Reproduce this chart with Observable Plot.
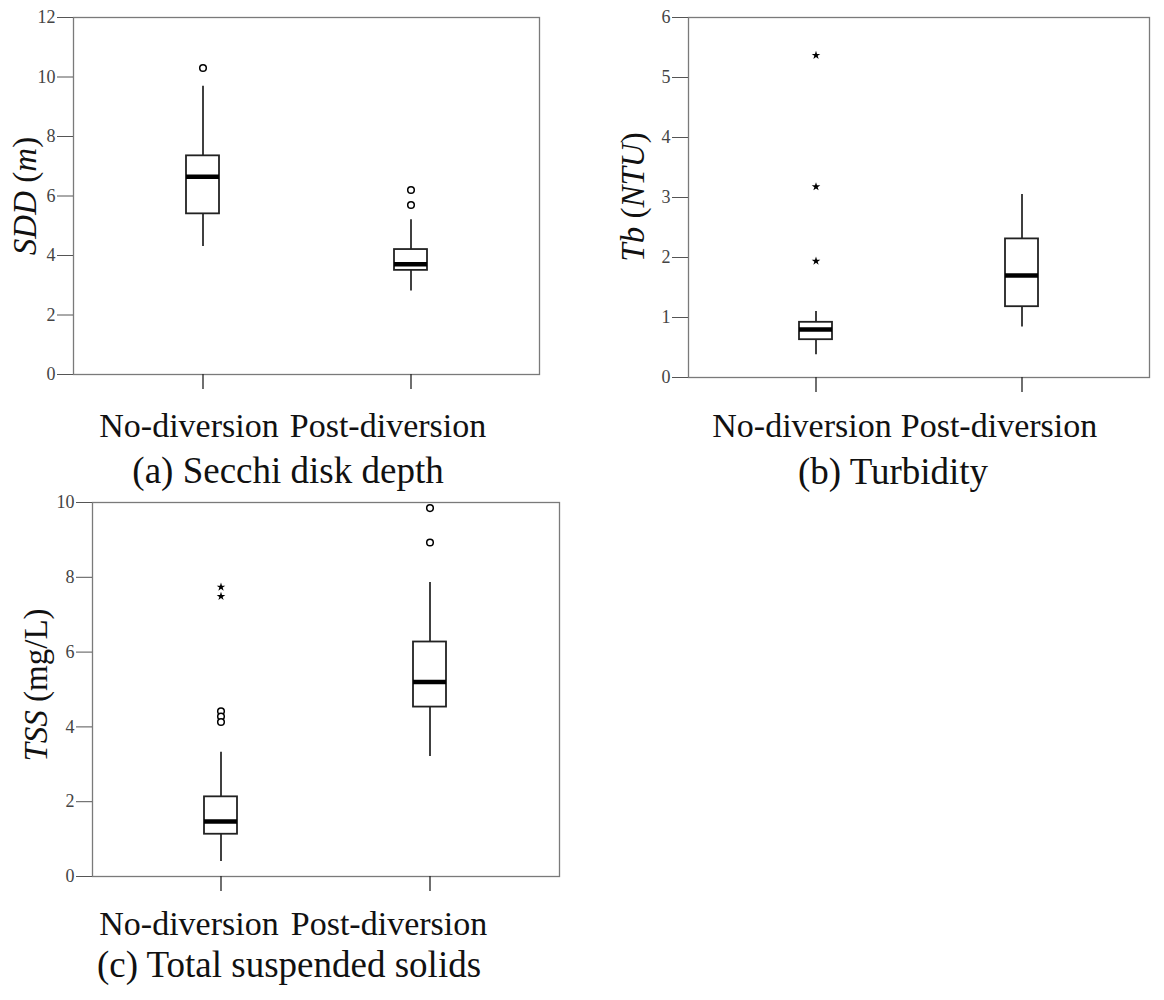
<!DOCTYPE html>
<html>
<head>
<meta charset="utf-8">
<script src="https://cdn.jsdelivr.net/npm/d3@7"></script>
<script src="https://cdn.jsdelivr.net/npm/@observablehq/plot@0.6"></script>
<style>
  html, body { margin: 0; padding: 0; background: #fff; }
  #wrap { position: relative; width: 1164px; height: 1000px; background: #fff; font-family: "Liberation Serif", "Times New Roman", serif; color: #111; }
  .panel { position: absolute; }
  .title { position: absolute; font-size: 37px; line-height: 37px; white-space: nowrap; transform: translateX(-50%); }
  .ylab { position: absolute; font-size: 33px; line-height: 33px; white-space: nowrap; transform: translate(-50%, -50%) rotate(-90deg); }
  .ylab i { font-style: italic; }
</style>
</head>
<body>
<div id="wrap"></div>
<script>
// ---------- data ----------
const categories = ["No-diversion", "Post-diversion"];

// (a) Secchi disk depth, m
const sddQ1 = [5.40, 3.50];
const sddMedian = [6.65, 3.71];
const sddQ3 = [7.35, 4.20];
const sddLow = [4.30, 2.81];
const sddHigh = [9.69, 5.20];
const sddOutliers = [["No-diversion", 10.30], ["Post-diversion", 6.20], ["Post-diversion", 5.70]];
const sddExtremes = [];
const sddTicks = [0, 2, 4, 6, 8, 10, 12];

// (b) Turbidity, NTU
const tbQ1 = [0.63, 1.18];
const tbMedian = [0.80, 1.70];
const tbQ3 = [0.92, 2.31];
const tbLow = [0.38, 0.84];
const tbHigh = [1.10, 3.05];
const tbOutliers = [];
const tbExtremes = [["No-diversion", 5.37], ["No-diversion", 3.18], ["No-diversion", 1.94]];
const tbTicks = [0, 1, 2, 3, 4, 5, 6];

// (c) Total suspended solids, mg/L
const tssQ1 = [1.13, 4.53];
const tssMedian = [1.47, 5.20];
const tssQ3 = [2.13, 6.27];
const tssLow = [0.40, 3.21];
const tssHigh = [3.32, 7.86];
const tssOutliers = [["No-diversion", 4.42], ["No-diversion", 4.28], ["No-diversion", 4.13], ["Post-diversion", 9.85], ["Post-diversion", 8.93]];
const tssExtremes = [["No-diversion", 7.74], ["No-diversion", 7.49]];
const tssTicks = [0, 2, 4, 6, 8, 10];

// ---------- drawing ----------
const wrap = document.getElementById("wrap");

function boxPanel(cfg) {
  const rows = categories.map((c, i) => ({cat: c, q1: cfg.q1[i], med: cfg.med[i], q3: cfg.q3[i], lo: cfg.lo[i], hi: cfg.hi[i]}));
  const circ = cfg.outliers.map(([cat, v]) => ({cat, v}));
  const star = cfg.extremes.map(([cat, v]) => ({cat, v}));
  const chart = Plot.plot({
    width: cfg.width,
    height: cfg.height,
    marginLeft: cfg.ml, marginRight: cfg.mr, marginTop: cfg.mt, marginBottom: cfg.mb,
    style: {fontFamily: '"Liberation Serif", "Times New Roman", serif', background: "white", overflow: "visible"},
    x: {type: "band", domain: categories, paddingInner: 0.842, paddingOuter: 0.537, label: null},
    y: {domain: [0, cfg.yMax], label: null},
    marks: [
      Plot.frame({stroke: "#7a7a7a", strokeWidth: 1.3}),
      Plot.ruleX(rows, {x: "cat", y1: "q3", y2: "hi", stroke: "black", strokeWidth: 1.5}),
      Plot.ruleX(rows, {x: "cat", y1: "lo", y2: "q1", stroke: "black", strokeWidth: 1.5}),
      Plot.barY(rows, {x: "cat", y1: "q1", y2: "q3", fill: "white", stroke: "#222", strokeWidth: 1.8}),
      Plot.tickY(rows, {x: "cat", y: "med", stroke: "black", strokeWidth: 4.5}),
      Plot.dot(circ, {x: "cat", y: "v", r: 3.3, fill: "white", stroke: "black", strokeWidth: 1.5}),
      Plot.dot(star, {x: "cat", y: "v", symbol: "star", r: 2.7, fill: "black", stroke: "none"}),
      Plot.axisY(cfg.ticks, {tickSize: 16, tickPadding: 2, fontSize: 18, fill: "#444", stroke: "#555", tickFormat: (d) => String(d), label: null}),
      Plot.axisX(categories, {tickSize: 15, fill: "none", stroke: "#222", strokeWidth: 1.3, label: null}),
      Plot.axisX([categories[0]], {tickSize: 15, tickPadding: cfg.tp, stroke: "none", fill: "#111", fontSize: 34, dx: cfg.dx0, label: null}),
      Plot.axisX([categories[1]], {tickSize: 15, tickPadding: cfg.tp, stroke: "none", fill: "#111", fontSize: 34, dx: cfg.dx1, label: null})
    ]
  });
  const holder = document.createElement("div");
  holder.className = "panel";
  holder.style.left = cfg.left + "px";
  holder.style.top = cfg.top + "px";
  holder.appendChild(chart);
  wrap.appendChild(holder);
}

function addText(cls, html, x, y) {
  const d = document.createElement("div");
  d.className = cls;
  d.innerHTML = html;
  d.style.left = x + "px";
  d.style.top = y + "px";
  wrap.appendChild(d);
}

boxPanel({left: 0, top: 0, width: 560, height: 450, ml: 73, mr: 21, mt: 17, mb: 76, tp: 23, dx0: -14, dx1: -23,
  yMax: 12, ticks: sddTicks, q1: sddQ1, med: sddMedian, q3: sddQ3, lo: sddLow, hi: sddHigh,
  outliers: sddOutliers, extremes: sddExtremes});
boxPanel({left: 600, top: 0, width: 564, height: 450, ml: 88, mr: 15, mt: 17, mb: 73, tp: 20, dx0: -14, dx1: -23,
  yMax: 6, ticks: tbTicks, q1: tbQ1, med: tbMedian, q3: tbQ3, lo: tbLow, hi: tbHigh,
  outliers: tbOutliers, extremes: tbExtremes});
boxPanel({left: 0, top: 490, width: 580, height: 460, ml: 92, mr: 21, mt: 12, mb: 74, tp: 19, dx0: -32, dx1: -41,
  yMax: 10, ticks: tssTicks, q1: tssQ1, med: tssMedian, q3: tssQ3, lo: tssLow, hi: tssHigh,
  outliers: tssOutliers, extremes: tssExtremes});

addText("title", "(a) Secchi disk depth", 288, 452);
addText("title", "(b) Turbidity", 893, 453);
addText("title", "(c) Total suspended solids", 289, 946);

addText("ylab", "<i>SDD</i> (<i>m</i>)", 25, 196);
addText("ylab", "<i>Tb</i> (<i>NTU</i>)", 633, 197);
addText("ylab", "<i>TSS</i> (mg/L)", 36, 685);
</script>
</body>
</html>
